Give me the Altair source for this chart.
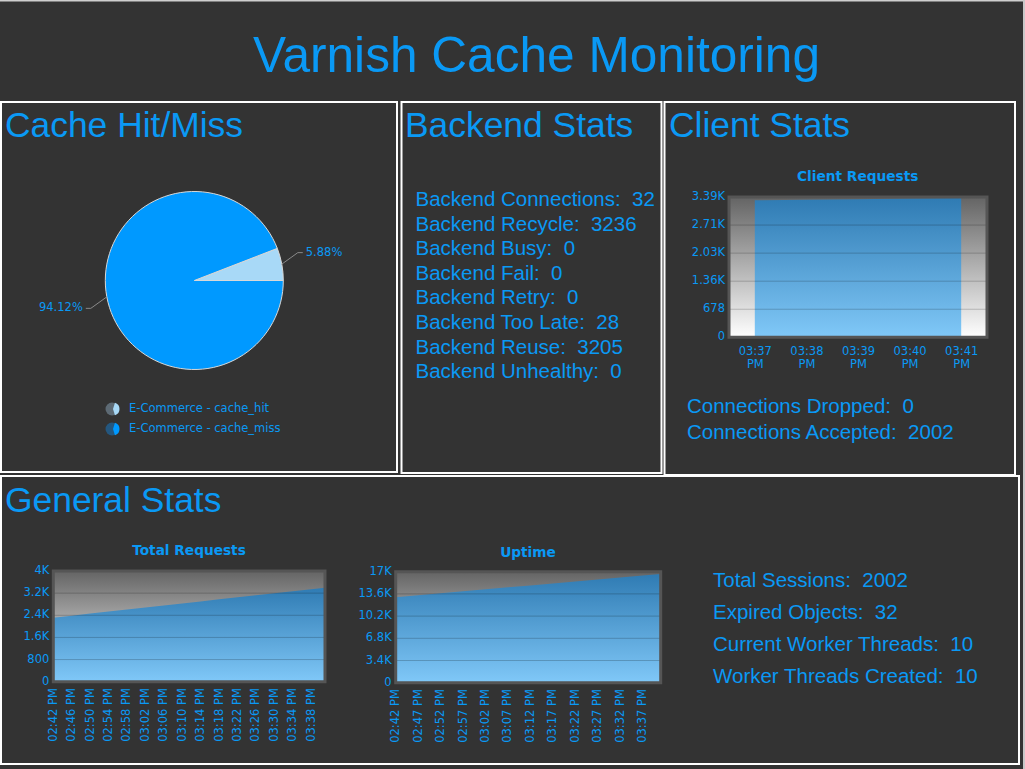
import math
import altair as alt
import pandas as pd

# ---------------- data ----------------
page_title = "Varnish Cache Monitoring"
panel_titles = ["Cache Hit/Miss", "Backend Stats", "Client Stats", "General Stats"]

pie_categories = ["E-Commerce - cache_hit", "E-Commerce - cache_miss"]
pie_values = [5.88, 94.12]

backend_labels = ["Backend Connections", "Backend Recycle", "Backend Busy", "Backend Fail",
                  "Backend Retry", "Backend Too Late", "Backend Reuse", "Backend Unhealthy"]
backend_values = [32, 3236, 0, 0, 0, 28, 3205, 0]

client_labels = ["Connections Dropped", "Connections Accepted"]
client_values = [0, 2002]

general_labels = ["Total Sessions", "Expired Objects", "Current Worker Threads", "Worker Threads Created"]
general_values = [2002, 32, 10, 10]

client_title = "Client Requests"
client_times = ["03:37 PM", "03:38 PM", "03:39 PM", "03:40 PM", "03:41 PM"]
client_requests = [3310, 3324, 3338, 3352, 3366]
client_ticks = [0, 678, 1356, 2034, 2712, 3390]

total_title = "Total Requests"
total_times = ["02:42 PM", "02:46 PM", "02:50 PM", "02:54 PM", "02:58 PM", "03:02 PM", "03:06 PM",
               "03:10 PM", "03:14 PM", "03:18 PM", "03:22 PM", "03:26 PM", "03:30 PM", "03:34 PM",
               "03:38 PM", "03:41 PM"]
total_requests = [2313, 2387, 2460, 2534, 2607, 2681, 2754, 2828, 2902, 2975, 3049, 3122, 3196,
                  3269, 3343, 3398]
total_tick_times = total_times[:-1]
total_ticks = [0, 800, 1600, 2400, 3200, 4000]

uptime_title = "Uptime"
uptime_times = ["02:42 PM", "02:47 PM", "02:52 PM", "02:57 PM", "03:02 PM", "03:07 PM", "03:12 PM",
                "03:17 PM", "03:22 PM", "03:27 PM", "03:32 PM", "03:37 PM", "03:41 PM"]
uptime_values = [13100, 13400, 13700, 14000, 14300, 14600, 14900, 15200, 15500, 15800, 16100,
                 16400, 16640]
uptime_tick_times = uptime_times[:-1]
uptime_ticks = [0, 3400, 6800, 10200, 13600, 17000]

# ---------------- style / layout ----------------
W, H = 1025, 769
BLUE = "#0a99f5"
BG = "#333333"
SANS = "Liberation Sans"
VERD = "DejaVu Sans"
LAB_SIZE = 11.5
ONE = pd.DataFrame({"k": [0]})
NBSP = "\u00a0"


def to_min(t):
    h, m = int(t[:2]), int(t[3:5])
    if t.endswith("PM") and h < 12:
        h += 12
    return h * 60 + m


def fmt_k(v):
    if v >= 1000:
        return f"{v / 1000:.2f}".rstrip("0").rstrip(".") + "K"
    return str(v)


def box(x0, x1, y0, y1, **mark):
    return alt.Chart(ONE).mark_rect(**mark).encode(
        x=alt.value(x0), x2=alt.value(x1), y=alt.value(y0), y2=alt.value(y1))


def text_layer(rows, size, font=SANS, weight="normal", align="left", baseline="alphabetic"):
    df = pd.DataFrame(rows, columns=["text", "px", "py"])
    return alt.Chart(df).mark_text(font=font, fontSize=size, fontWeight=weight, align=align,
                                   baseline=baseline, color=BLUE).encode(
        x=alt.X("px:Q", scale=None, axis=None),
        y=alt.Y("py:Q", scale=None, axis=None),
        text="text:N")


PLOT_BG = alt.Gradient(gradient="linear",
                       stops=[alt.GradientStop(offset=0, color="#646464"),
                              alt.GradientStop(offset=1, color="#ffffff")],
                       x1=0, x2=0, y1=0, y2=1)
AREA_BG = alt.Gradient(gradient="linear",
                       stops=[alt.GradientStop(offset=0, color="#2f7bb3"),
                              alt.GradientStop(offset=1, color="#80c8f8")],
                       x1=0, x2=0, y1=0, y2=1)

T_LABEL = ("'0' + (floor(datum.value / 60) - 12) + ':' + (datum.value % 60 < 10 ? '0' : '') + "
           "(datum.value % 60) + ' PM'")

AX = dict(title=None, domain=False, ticks=False, tickSize=0, grid=False, labelColor=BLUE,
          labelFont=VERD, labelFontSize=LAB_SIZE, labelFlush=False, labelOverlap=False)


def decorations(ys, ticks, x0, x1, y0, y1):
    tdf = pd.DataFrame({"v": ticks, "lab": [fmt_k(v) for v in ticks]})
    grid = alt.Chart(tdf[1:-1]).mark_rule(color="#000000", opacity=0.2).encode(
        y=alt.Y("v:Q", scale=ys, axis=None), x=alt.value(x0), x2=alt.value(x1))
    labels = alt.Chart(tdf).mark_text(font=VERD, fontSize=LAB_SIZE, align="right", baseline="middle",
                                      color=BLUE).encode(
        y=alt.Y("v:Q", scale=ys, axis=None), x=alt.value(x0 - 4), text="lab:N")
    frame = box(x0, x1, y0, y1, fillOpacity=0, stroke="#555555", strokeWidth=3)
    return grid, frame, labels


def time_chart(times, values, ticks, tick_times, x0, x1, y0, y1):
    mins = [to_min(t) for t in times]
    df = pd.DataFrame({"t": mins, "v": values})
    xs = alt.Scale(domain=[mins[0], mins[-1]], range=[x0, x1], nice=False, zero=False)
    ys = alt.Scale(domain=[ticks[0], ticks[-1]], range=[y1, y0], nice=False)
    bg = box(x0, x1, y0, y1, color=PLOT_BG)
    area = alt.Chart(df).mark_area(color=AREA_BG).encode(
        x=alt.X("t:Q", scale=xs,
                axis=alt.Axis(orient="bottom", offset=y1 - H, values=[to_min(t) for t in tick_times],
                              labelExpr=T_LABEL, labelAngle=270, labelAlign="right",
                              labelBaseline="middle", labelPadding=6, **AX)),
        y=alt.Y("v:Q", scale=ys, axis=None))
    grid, frame, labels = decorations(ys, ticks, x0, x1, y0, y1)
    return alt.layer(bg, area, grid, frame, labels)


def client_chart(x0, x1, y0, y1):
    df = pd.DataFrame({"t": client_times, "v": client_requests})
    xs = alt.Scale(type="point", range=[x0, x1], padding=0.5)
    ys = alt.Scale(domain=[client_ticks[0], client_ticks[-1]], range=[y1, y0], nice=False)
    bg = box(x0, x1, y0, y1, color=PLOT_BG)
    area = alt.Chart(df).mark_area(color=AREA_BG).encode(
        x=alt.X("t:O", scale=xs, sort=client_times,
                axis=alt.Axis(orient="bottom", offset=y1 - H, labelAngle=0,
                              labelExpr="split(datum.label, ' ')", labelLineHeight=13,
                              labelPadding=8, **AX)),
        y=alt.Y("v:Q", scale=ys, axis=None))
    grid, frame, labels = decorations(ys, client_ticks, x0, x1, y0, y1)
    return alt.layer(bg, area, grid, frame, labels)


layers = []

# page decorations
layers.append(box(0, W, 0, 1.5, color="#cfcfcf"))
layers.append(box(1023, W, 0, H, color="#c8c8c8"))
panel_boxes = [(1, 397, 102, 472), (401.5, 661.5, 102, 473), (664.5, 1015, 102, 475), (1, 1019, 476, 764)]
for (a, b, c, d) in panel_boxes:
    layers.append(box(a, b, c, d, fillOpacity=0, stroke="#ffffff", strokeWidth=2))

# titles
layers.append(text_layer([(page_title, 536.5, 72)], 49.6, align="center"))
title_pos = [(5, 137), (405, 137), (669, 137), (5, 512)]
layers.append(text_layer([(t, p[0], p[1]) for t, p in zip(panel_titles, title_pos)], 35.4))

# stat lines
rows = []
for i, (lab, val) in enumerate(zip(backend_labels, backend_values)):
    rows.append((f"{lab}:{NBSP} {val}", 415.5, 206 + 24.6 * i))
for i, (lab, val) in enumerate(zip(client_labels, client_values)):
    rows.append((f"{lab}:{NBSP} {val}", 687, 413.3 + 25.7 * i))
for i, (lab, val) in enumerate(zip(general_labels, general_values)):
    rows.append((f"{lab}:{NBSP} {val}", 713, 587 + 31.9 * i))
layers.append(text_layer(rows, 20.5))

# pie
CX, CY, R = 194.3, 280.5, 89
pie_df = pd.DataFrame({"cat": pie_categories, "pct": pie_values, "ord": [1, 0]})
layers.append(alt.Chart(pie_df).mark_arc(radius=R, stroke="#d8d8d8", strokeWidth=1).encode(
    theta=alt.Theta("pct:Q", stack=True,
                    scale=alt.Scale(domain=[0, sum(pie_values)], range=[math.pi / 2, math.pi / 2 + 2 * math.pi],
                                    nice=False)),
    color=alt.Color("cat:N", scale=alt.Scale(domain=pie_categories, range=["#a8d9f7", "#0099ff"]), legend=None),
    order=alt.Order("ord:Q", sort="ascending"),
    x=alt.value(CX), y=alt.value(CY)))

# pie labels with leader lines (positions derived from slice mid-angles)
hit, miss = pie_values
mid_angles = [hit / 100 * math.pi, math.pi + hit / 100 * math.pi]  # counter-clockwise from east
line_rows, lab_left, lab_right = [], [], []
for k, (val, a) in enumerate(zip(pie_values, mid_angles)):
    s = 1 if math.cos(a) >= 0 else -1
    sx, sy = CX + R * math.cos(a), CY - R * math.sin(a)
    ex, ey = sx + 16 * s, sy - 11.5 * s
    hx = ex + 5 * s
    for j, (px, py) in enumerate([(sx, sy), (ex, ey), (hx, ey)]):
        line_rows.append({"lbl": k, "o": j, "px": px, "py": py})
    (lab_left if s > 0 else lab_right).append((f"{val:.2f}%", hx + 3 * s, ey))
layers.append(alt.Chart(pd.DataFrame(line_rows)).mark_line(color="#8a8a8a", strokeWidth=1).encode(
    x=alt.X("px:Q", scale=None, axis=None), y=alt.Y("py:Q", scale=None, axis=None),
    detail="lbl:N", order="o:Q"))
layers.append(text_layer(lab_left, 11.5, font=VERD, baseline="middle"))
layers.append(text_layer(lab_right, 11.5, font=VERD, align="right", baseline="middle"))

# pie legend icons
leg_y = [409, 429]
icon_styles = [("#5d6a74", "#a8d9f7"), ("#24577f", "#0099ff")]
for yy, (base_c, top_c) in zip(leg_y, icon_styles):
    layers.append(alt.Chart(ONE).mark_arc(radius=6.5, theta=0, theta2=2 * math.pi, color=base_c).encode(
        x=alt.value(112), y=alt.value(yy)))
    layers.append(alt.Chart(ONE).mark_arc(radius=6.5, theta=0.3, theta2=math.pi - 0.3, color=top_c).encode(
        x=alt.value(113), y=alt.value(yy)))
layers.append(text_layer([(c, 129, y) for c, y in zip(pie_categories, leg_y)], 11.5, font=VERD,
                         baseline="middle"))

# charts
layers.append(text_layer([(client_title, 857.7, 181), (total_title, 189, 555), (uptime_title, 528, 556.5)],
                         13.7, font=VERD, weight="bold", align="center"))
layers.append(client_chart(729, 987, 197, 337.3))
layers.append(time_chart(total_times, total_requests, total_ticks, total_tick_times, 53.3, 325, 571, 681.7))
layers.append(time_chart(uptime_times, uptime_values, uptime_ticks, uptime_tick_times, 395.7, 660.7, 571.7, 682.7))

chart = alt.layer(*layers).resolve_scale(
    x="independent", y="independent", theta="independent", color="independent"
).properties(
    width=W, height=H, background=BG, padding=0, autosize=alt.AutoSizeParams(type="none")
).configure_view(strokeWidth=0)

chart.save("out.html", embed_options={"renderer": "svg", "actions": False})
